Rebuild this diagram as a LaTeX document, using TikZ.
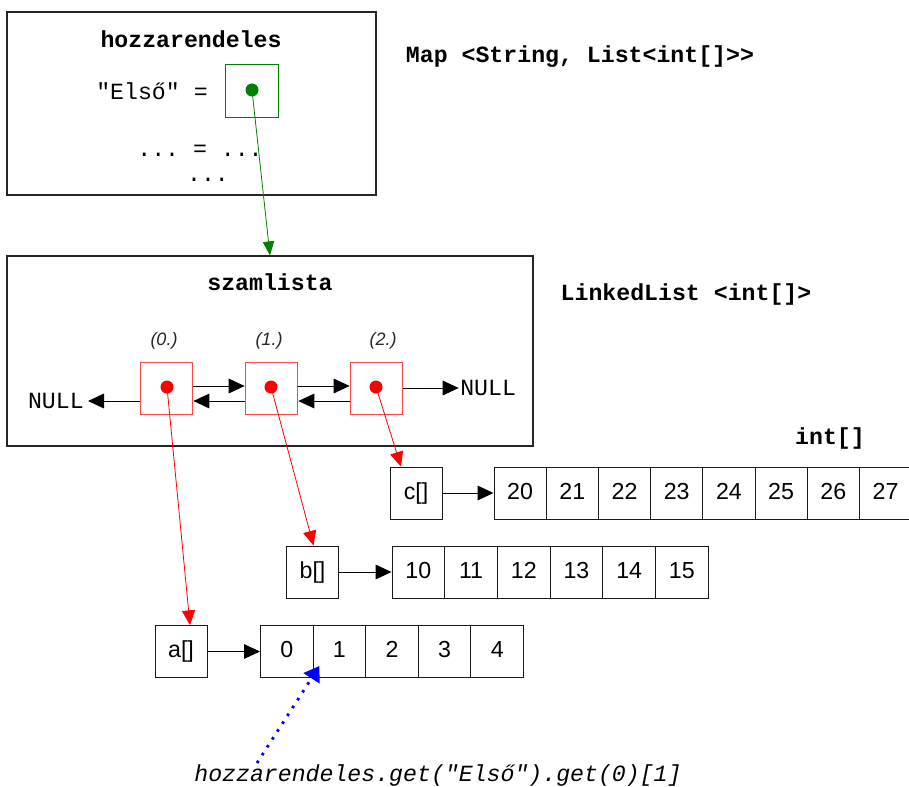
\documentclass[tikz,border=0pt]{standalone}
\usepackage{fontspec}
\setmainfont{Liberation Sans}
\setmonofont{Liberation Mono}
\usetikzlibrary{arrows.meta}
\definecolor{mapgreen}{RGB}{0,128,0}
\definecolor{boxred}{RGB}{255,70,70}
\newcommand\bigsize{\fontsize{17.4}{20}\selectfont}
\newcommand\smallsize{\fontsize{13.5}{16}\selectfont}
\begin{document}
\begin{tikzpicture}[x=0.75pt,y=-0.75pt,
  frame/.style={draw=black!85, line width=0.9pt},
  cell/.style={draw=black!90, line width=0.75pt, minimum height=39pt, inner sep=0pt, font=\bigsize, text height=12.5pt, text depth=3.5pt},
  refbox/.style={cell, minimum width=39pt},
  listnode/.style={draw=boxred, line width=0.75pt, minimum width=39.5pt, minimum height=39pt, inner sep=0pt},
  reddot/.style={circle, fill=red, draw=none, minimum size=9.75pt, inner sep=0pt},
  code/.style={font=\ttfamily\bigsize, inner sep=0pt},
  codebold/.style={font=\ttfamily\bfseries\bigsize, inner sep=0pt},
  idx/.style={font=\itshape\smallsize, text=black!85, inner sep=0pt},
  arr/.style={-{Triangle[length=12pt,width=11pt]}, line width=0.75pt},
  redarr/.style={draw=red, line width=0.6pt, -{Triangle[length=11pt,width=10pt]}, red},
  greenarr/.style={draw=mapgreen, line width=0.6pt, -{Triangle[length=10.5pt,width=8.5pt]}, mapgreen},
  bluearr/.style={draw=blue, line width=2.1pt, dash pattern=on 2pt off 5pt, -{Triangle[length=11pt,width=14pt]}, blue}
]
\useasboundingbox (0,0) rectangle (909,786);

% --- the map ---
\node[frame, minimum width=276.75pt, minimum height=137.25pt, inner sep=0pt] (map) at (191.5,103.5) {};
\node[codebold] (maptitle) at (191,39) {hozzarendeles};
\node[code] (key) at (152,91) {"Első" =};
\node[draw=mapgreen, line width=0.6pt, minimum size=39.75pt, inner sep=0pt] (gbox) at (251.5,90.5) {};
\node[circle, fill=mapgreen, minimum size=9.75pt, inner sep=0pt] (gdot) at (252,90) {};
\node[code] (more) at (200,151) {... = ...};
\node[code] (more2) at (208,180) {...};
\node[codebold] (maptype) at (580,57) {Map <String, List<int[]>>};

% --- the linked list ---
\node[frame, minimum width=394.5pt, minimum height=142.5pt, inner sep=0pt] (szam) at (270,351) {};
\node[codebold] (szamtitle) at (270,282) {szamlista};
\node[codebold] (listtype) at (686,294) {LinkedList <int[]>};

\node[listnode] (n0) at (166.5,388) {};
\node[listnode] (n1) at (271.5,388) {};
\node[listnode] (n2) at (376.5,388) {};
\node[reddot] (d0) at (167,387) {};
\node[reddot] (d1) at (271,387) {};
\node[reddot] (d2) at (376,387) {};
\node[idx] (i0) at (164,341) {(0.)};
\node[idx] (i1) at (269,341) {(1.)};
\node[idx] (i2) at (383,341) {(2.)};
\node[code, anchor=east] (nullL) at (84,401) {NULL};
\node[code, anchor=west] (nullR) at (460,388) {NULL};

\draw[arr] ([yshift=1.5pt]n0.east) -- ([yshift=1.5pt]n1.west);
\draw[arr] ([yshift=1.5pt]n1.east) -- ([yshift=1.5pt]n2.west);
\draw[arr] ([yshift=-9.75pt]n1.west) -- ([yshift=-9.75pt]n0.east);
\draw[arr] ([yshift=-9.75pt]n2.west) -- ([yshift=-9.75pt]n1.east);
\draw[arr] ([yshift=-9.75pt]n0.west) -- ([xshift=3pt]nullL.east);
\draw[arr] (n2.east) -- ([xshift=-1pt]nullR.west);

\draw[greenarr] (gdot.center) -- (szam.north);

% --- the arrays ---
\node[codebold] (inttype) at (830,438) {int[]};

\node[refbox] (cref) at (416,493) {c[]};
\foreach \v [count=\i] in {20,21,22,23,24,25,26,27}
  \node[cell, minimum width=39.15pt] (c\i) at ({494+(\i-0.5)*52.2},493) {\v};

\node[refbox] (bref) at (312.5,572) {b[]};
\foreach \v [count=\i] in {10,11,12,13,14,15}
  \node[cell, minimum width=39.5pt] (b\i) at ({392+(\i-0.5)*52.7},572) {\v};

\node[refbox] (aref) at (181,651.5) {a[]};
\foreach \v [count=\i] in {0,1,2,3,4}
  \node[cell, minimum width=39.45pt] (a\i) at ({260.5+(\i-0.5)*52.6},651.5) {\v};

\draw[arr] (cref) -- (c1);
\draw[arr] (bref) -- (b1);
\draw[arr] (aref) -- (a1);

\draw[redarr] (d0.center) -- ([xshift=6.75pt]aref.north);
\draw[redarr] (d1.center) -- ([xshift=0.75pt]bref.north);
\draw[redarr] (d2.center) -- ([xshift=-11.25pt]cref.north);

% --- the access expression ---
\node[font=\ttfamily\itshape\bigsize, inner sep=0pt, anchor=base] (expr) at (438,781) {hozzarendeles.get("Első").get(0)[1]};
\coordinate (exprstart) at (257,763);
\draw[bluearr] (exprstart) -- ([xshift=-15pt,yshift=9pt]a2.south);
\end{tikzpicture}
\end{document}
